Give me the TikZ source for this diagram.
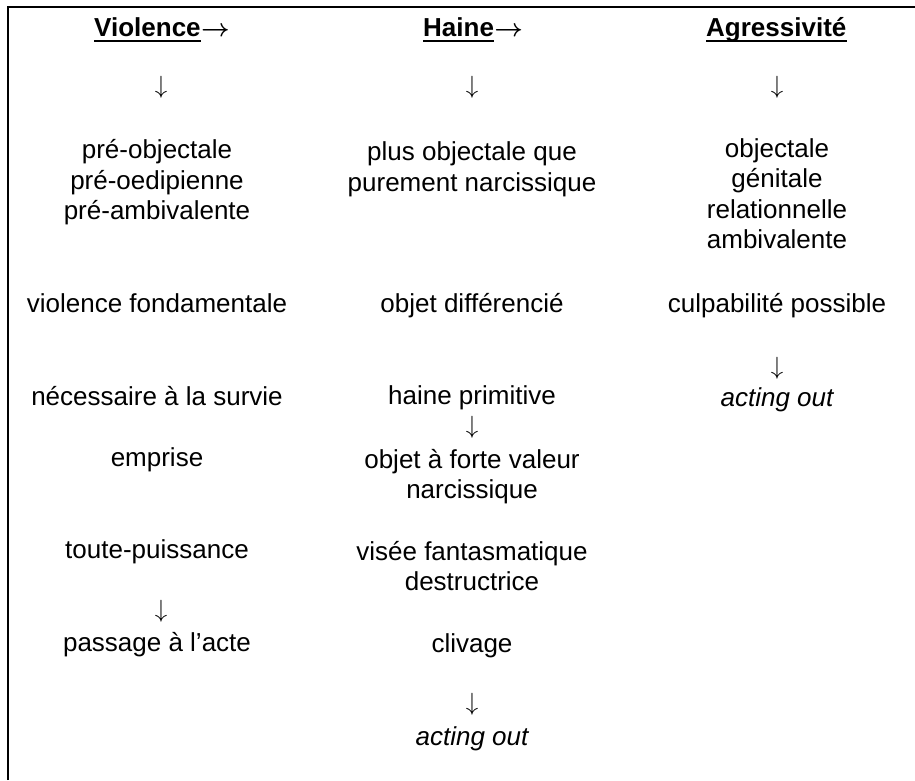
\documentclass[tikz,border=0pt]{standalone}
\usepackage{fontspec}
\setmainfont{Liberation Sans}
\begin{document}
\begin{tikzpicture}[x=1pt,y=-1pt,
  txt/.style={inner sep=0pt,anchor=base,font=\fontsize{26}{30}\selectfont},
  itx/.style={txt,font=\fontsize{26}{30}\selectfont\itshape},
  hdr/.style={inner sep=0pt,anchor=base west,font=\fontsize{26}{30}\selectfont\bfseries},
  hdra/.style={inner sep=0pt,anchor=base west,font=\fontsize{26}{30}\selectfont\boldmath},
  uline/.style={line width=2.4pt},
  frame/.style={line width=2pt}]
\useasboundingbox (0,0) rectangle (915,780);
% frame (top and left border of the cell)
\coordinate (tl) at (7.5,7);
\coordinate (tr) at (915,7);
\coordinate (bl) at (7.5,780);
\draw[frame] (bl) -- (tl) -- (tr);
% headers
\node[hdr] (h1) at (94,36) {Violence};
\node[hdra] (h1a) at (h1.base east) {$\rightarrow$};
\node[hdr] (h2) at (423,36) {Haine};
\node[hdra] (h2a) at (h2.base east) {$\rightarrow$};
\node[hdr] (h3) at (706,36) {Agressivité};
\draw[uline] ([yshift=-5pt]h1.base west) -- ([yshift=-5pt]h1.base east);
\draw[uline] ([yshift=-5pt]h2.base west) -- ([yshift=-5pt]h2.base east);
\draw[uline] ([yshift=-5pt]h3.base west) -- ([yshift=-5pt]h3.base east);
% column 1
\node[txt] (a0) at (161,93) {$\downarrow$};
\node[txt] (a1) at (157,158) {pré-objectale};
\node[txt] (a2) at (157,189) {pré-oedipienne};
\node[txt] (a3) at (157,219) {pré-ambivalente};
\node[txt] (a4) at (157,312) {violence fondamentale};
\node[txt] (a5) at (157,405) {nécessaire à la survie};
\node[txt] (a6) at (157,466) {emprise};
\node[txt] (a7) at (157,558) {toute-puissance};
\node[txt] (a8) at (161,617) {$\downarrow$};
\node[txt] (a9) at (157,651) {passage à l’acte};
% column 2
\node[txt] (b0) at (472,93) {$\downarrow$};
\node[txt] (b1) at (472,160) {plus objectale que};
\node[txt] (b2) at (472,191) {purement narcissique};
\node[txt] (b3) at (472,312) {objet différencié};
\node[txt] (b4) at (472,404) {haine primitive};
\node[txt] (b5) at (472,433) {$\downarrow$};
\node[txt] (b6) at (472,468) {objet à forte valeur};
\node[txt] (b7) at (472,498) {narcissique};
\node[txt] (b8) at (472,560) {visée fantasmatique};
\node[txt] (b9) at (472,590) {destructrice};
\node[txt] (b10) at (472,652) {clivage};
\node[txt] (b11) at (472,710) {$\downarrow$};
\node[itx] (b12) at (472,745) {acting out};
% column 3
\node[txt] (c0) at (777,93) {$\downarrow$};
\node[txt] (c1) at (777,157) {objectale};
\node[txt] (c2) at (777,187) {génitale};
\node[txt] (c3) at (777,218) {relationnelle};
\node[txt] (c4) at (777,248) {ambivalente};
\node[txt] (c5) at (777,312) {culpabilité possible};
\node[txt] (c6) at (777,374) {$\downarrow$};
\node[itx] (c7) at (777,406) {acting out};
\end{tikzpicture}
\end{document}
